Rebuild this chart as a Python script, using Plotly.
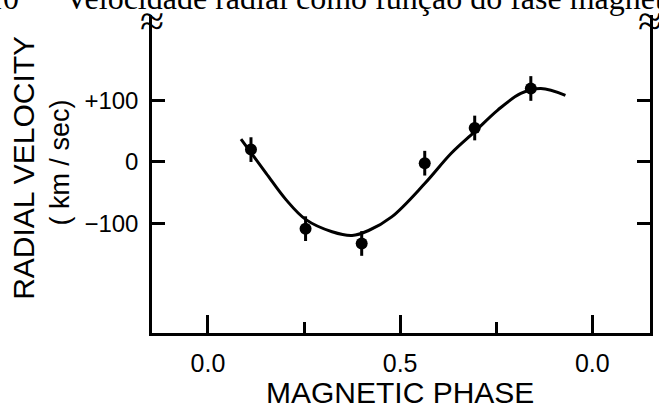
import plotly.graph_objects as go

# Observed data points
phase = [0.112, 0.254, 0.400, 0.564, 0.694, 0.840]
velocity = [20, -108, -132, -2, 55, 119]
error = [20, 20, 20, 20, 20, 20]

# Fitted curve
curve_phase = [0.086, 0.151, 0.203, 0.254, 0.323, 0.375, 0.418, 0.478, 0.564, 0.633, 0.694, 0.754, 0.814, 0.866, 0.930]
curve_velocity = [37, -18, -61, -93, -113, -119, -111, -89, -35, 14, 49, 84, 111, 119, 108]

x_tickvals = [0.0, 0.5, 1.0]
x_ticktext = ["0.0", "0.5", "0.0"]
x_minor = [0.25, 0.75]
y_tickvals = [-100, 0, 100]
y_ticktext = ["−100", "0", "+100"]

SANS = "Liberation Sans"
SERIF = "Liberation Serif"

fig = go.Figure()
fig.add_trace(go.Scatter(
    x=curve_phase, y=curve_velocity, mode="lines",
    line=dict(color="black", width=3, shape="spline", smoothing=1.0),
    hoverinfo="skip", showlegend=False,
))
fig.add_trace(go.Scatter(
    x=phase, y=velocity, mode="markers",
    marker=dict(color="black", size=12),
    error_y=dict(type="data", array=error, color="black", thickness=3, width=0),
    showlegend=False,
))

fig.update_layout(
    width=659, height=408,
    margin=dict(l=152, r=6, t=15, b=75),
    paper_bgcolor="white", plot_bgcolor="white",
    xaxis=dict(
        range=[-0.1455, 1.150], showgrid=False, zeroline=False,
        showline=True, linecolor="black", linewidth=2.5, mirror=False,
        tickmode="array", tickvals=x_tickvals, ticktext=x_ticktext,
        ticks="inside", ticklen=18, tickwidth=2.5, tickcolor="black",
        minor=dict(tickmode="array", tickvals=x_minor, ticks="inside", ticklen=11,
                   tickwidth=2.5, tickcolor="black", showgrid=False),
        tickfont=dict(family=SANS, size=25, color="black"),
        ticklabelstandoff=6,
    ),
    yaxis=dict(
        range=[-277, 238], showgrid=False, zeroline=False,
        showline=True, linecolor="black", linewidth=2.5, mirror="ticks",
        tickmode="array", tickvals=y_tickvals, ticktext=y_ticktext,
        ticks="inside", ticklen=13, tickwidth=2.5, tickcolor="black",
        tickfont=dict(family=SANS, size=24, color="black"),
        ticklabelstandoff=6,
    ),
    annotations=[
        dict(text="RADIAL VELOCITY", textangle=-90, xref="paper", yref="paper",
             x=(22 - 152) / 501.3, y=(333 - 168) / 318, xanchor="center", yanchor="middle",
             showarrow=False, font=dict(family=SANS, size=30, color="black")),
        dict(text="( km / sec)", textangle=-90, xref="paper", yref="paper",
             x=(59 - 152) / 501.3, y=(333 - 163) / 318, xanchor="center", yanchor="middle",
             showarrow=False, font=dict(family=SANS, size=27, color="black")),
        dict(text="MAGNETIC PHASE", xref="paper", yref="paper",
             x=(402 - 152) / 501.3, y=(333 - 392) / 318, xanchor="center", yanchor="middle",
             showarrow=False, font=dict(family=SANS, size=30, color="black")),
        dict(text="≈", xref="paper", yref="paper", x=0, y=(333 - 21) / 318,
             xanchor="center", yanchor="middle", showarrow=False,
             font=dict(family=SERIF, size=44, color="black")),
        dict(text="≈", xref="paper", yref="paper", x=1, y=(333 - 21) / 318,
             xanchor="center", yanchor="middle", showarrow=False,
             font=dict(family=SERIF, size=44, color="black")),
        dict(text="10", xref="paper", yref="paper", x=(20 - 152) / 501.3, y=(333 + 2) / 318,
             xanchor="right", yanchor="middle", showarrow=False,
             font=dict(family=SERIF, size=32, color="black")),
        dict(text="Velocidade radial como função do fase magnética", xref="paper", yref="paper",
             x=(62 - 152) / 501.3, y=(333 + 2) / 318,
             xanchor="left", yanchor="middle", showarrow=False,
             font=dict(family=SERIF, size=32, color="black")),
    ],
)

fig.write_html("out.html", config={"displayModeBar": False},
               post_script="document.body.style.margin='0';document.body.style.overflow='hidden';")
